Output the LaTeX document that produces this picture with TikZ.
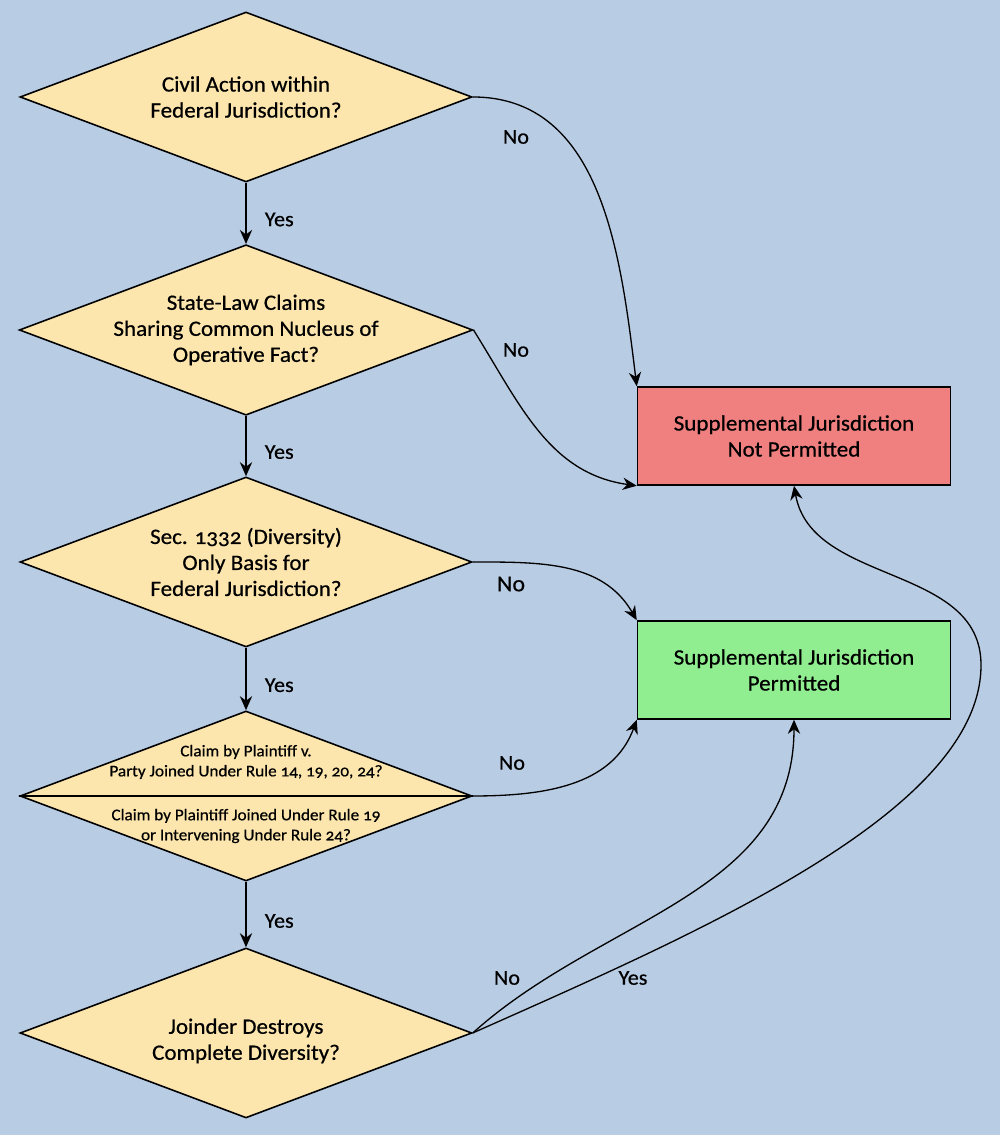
\documentclass[tikz,border=0pt]{standalone}
\usepackage{fontspec}
\setmainfont{Carlito}[Numbers=OldStyle,FakeStretch=1.05,FakeBold=0.6]
\usetikzlibrary{shapes.geometric,arrows.meta,positioning}

\definecolor{bgblue}{RGB}{184,204,228}
\definecolor{qfill}{RGB}{252,230,174}
\definecolor{nofill}{RGB}{240,128,128}
\definecolor{yesfill}{RGB}{144,238,144}

\begin{document}
\begin{tikzpicture}[
x=0.02cm,
y=0.02cm,
question/.style={
  draw,
  diamond,
  fill=qfill,
  line width=0.9pt,
  minimum width=9.04cm,
  minimum height=3.4cm,
  aspect=2.66,
  inner sep=0pt,
  align=center,
  font=\fontsize{12.5}{14.8}\selectfont
  },
verdict/.style={
  draw,
  rectangle,
  line width=0.9pt,
  minimum width=6.26cm,
  minimum height=1.96cm,
  align=center,
  font=\fontsize{12.5}{14.8}\selectfont
  },
small/.style={
  align=center,
  inner sep=0pt,
  font=\fontsize{9.3}{11.4}\selectfont
  },
answer/.style={
  font=\fontsize{12}{14}\selectfont
  },
>={Stealth[length=8pt,width=7pt]},
line width=0.75pt
]
\fill[bgblue] (0,0) rectangle (1000,1135);
\useasboundingbox (0,0) rectangle (1000,1135);

% questions
\node[question] (q1) at (246,1038) {Civil Action within\\Federal Jurisdiction?};
\node[question] (q2) at (246,805) {State-Law Claims\\Sharing Common Nucleus of\\Operative Fact?};
\node[question] (q3) at (246,573) {Sec. 1332 (Diversity)\\Only Basis for\\Federal Jurisdiction?};
\node[question] (q4) at (246,339) {};
\draw[line width=0.9pt] (q4.west) -- (q4.east);
\node[small] (q4a) at (246,373) {Claim by Plaintiff v.\\Party Joined Under Rule 14, 19, 20, 24?};
\node[small] (q4b) at (246,309) {Claim by Plaintiff Joined Under Rule 19\\or Intervening Under Rule 24?};
\node[question,text height=32.5pt] (q5) at (246,102) {Joinder Destroys\\Complete Diversity?};

% outcomes
\node[verdict,fill=nofill] (nope) at (794,699) {Supplemental Jurisdiction\\Not Permitted};
\node[verdict,fill=yesfill] (yep) at (794,465) {Supplemental Jurisdiction\\Permitted};

% yes chain
\foreach \qa/\qb in {q1/q2,q2/q3,q3/q4,q4/q5}
  \draw[->] (\qa) -- node[answer,pos=0.6,right=7pt] {Yes} (\qb);

% no branches
\draw[->] (q1.east) to[out=0,in=97] (nope.north west);
\draw[->] (q2.east) to[out=-58,in=172] (nope.south west);
\draw[->] (q3.east) to[out=0,in=120] (yep.north west);
\draw[->] (q4.east) to[out=0,in=-110] (yep.south west);
\draw[->] (q5.east) to[out=42,in=-90] (yep.south);
\coordinate (swing) at (981,470);
\draw[->] (q5.east) to[out=24,in=-90,in looseness=0.6] (swing) to[out=90,in=-80] (nope.south);

\node[answer] (no1) at (516,998) {No};
\node[answer] (no2) at (516,785) {No};
\node[answer,font=\fontsize{13}{15}\selectfont] (no3) at (511,551) {No};
\node[answer] (no4) at (512,372) {No};
\node[answer] (no5) at (507,157) {No};
\node[answer] (yes5) at (633,157) {Yes};

\end{tikzpicture}
\end{document}
